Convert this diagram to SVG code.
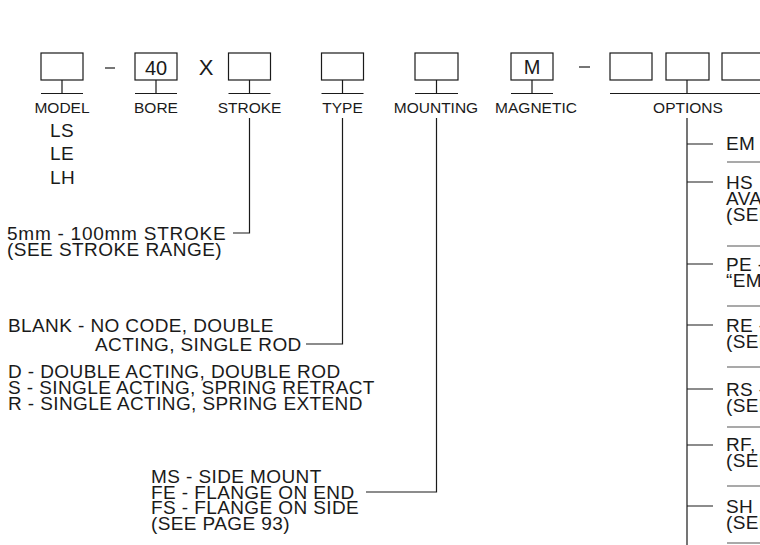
<svg xmlns="http://www.w3.org/2000/svg" width="760" height="545" viewBox="0 0 760 545">
<style>
.box{fill:none;stroke:#1a1a1a;stroke-width:1.2}
.ln{fill:none;stroke:#1a1a1a;stroke-width:1.2}
.lbl{font-family:"Liberation Sans",Arial,sans-serif;font-size:15.5px;fill:#1a1a1a;text-anchor:middle}
.big{font-family:"Liberation Sans",Arial,sans-serif;font-size:20px;fill:#1a1a1a;text-anchor:middle}
.t{font-family:"Liberation Sans",Arial,sans-serif;font-size:19px;letter-spacing:0.4px;fill:#1a1a1a}
</style>
<rect width="760" height="545" fill="#ffffff"/>

<g id="model">
<rect class="box" x="41" y="53" width="42" height="27"/>
<path class="ln" d="M62 80V93.5M41 93.5H83"/>
<text class="lbl" x="62" y="112.5">MODEL</text>
<text class="t" x="50" y="137">LS</text>
<text class="t" x="50" y="160">LE</text>
<text class="t" x="50" y="184">LH</text>
</g>

<g id="dash1"><path class="ln" d="M105 68H115"/></g>

<g id="bore">
<rect class="box" x="135" y="53" width="42" height="27"/>
<text class="big" x="156" y="75">40</text>
<path class="ln" d="M156 80V93.5M135 93.5H177"/>
<text class="lbl" x="156" y="112.5">BORE</text>
</g>

<g id="times"><text class="big" x="206" y="75" style="font-size:22px">X</text></g>

<g id="stroke">
<rect class="box" x="228.5" y="53" width="42" height="27"/>
<path class="ln" d="M249.5 80V93.5M228.5 93.5H270.5"/>
<text class="lbl" x="249.5" y="112.5">STROKE</text>
<text class="t" x="7" y="240" textLength="219" lengthAdjust="spacing">5mm - 100mm STROKE</text>
<text class="t" x="7" y="256" textLength="215" lengthAdjust="spacing">(SEE STROKE RANGE)</text>
</g>

<g id="type">
<rect class="box" x="321.5" y="53" width="42" height="27"/>
<path class="ln" d="M342.5 80V93.5M321.5 93.5H363.5"/>
<text class="lbl" x="342.5" y="112.5">TYPE</text>
<text class="t" x="8" y="332">BLANK - NO CODE, DOUBLE</text>
<text class="t" x="95" y="351">ACTING, SINGLE ROD</text>
<text class="t" x="8" y="378">D - DOUBLE ACTING, DOUBLE ROD</text>
<text class="t" x="8" y="394">S - SINGLE ACTING, SPRING RETRACT</text>
<text class="t" x="8" y="410">R - SINGLE ACTING, SPRING EXTEND</text>
</g>

<g id="mounting">
<rect class="box" x="415" y="53" width="43" height="27"/>
<path class="ln" d="M436.5 80V93.5M415 93.5H458"/>
<text class="lbl" x="436" y="112.5">MOUNTING</text>
<text class="t" x="151" y="483">MS - SIDE MOUNT</text>
<text class="t" x="151" y="499">FE - FLANGE ON END</text>
<text class="t" x="151" y="514">FS - FLANGE ON SIDE</text>
<text class="t" x="151" y="530">(SEE PAGE 93)</text>
</g>

<g id="magnetic">
<rect class="box" x="511" y="53" width="42" height="27"/>
<text class="big" x="532" y="74">M</text>
<path class="ln" d="M532 80V93.5M511 93.5H553"/>
<text class="lbl" x="536" y="112.5">MAGNETIC</text>
</g>

<g id="dash2"><path class="ln" d="M579 67H590"/></g>

<g id="options">
<rect class="box" x="610" y="53" width="42" height="27"/>
<rect class="box" x="666" y="53" width="43" height="27"/>
<rect class="box" x="722" y="53" width="42" height="27"/>
<path class="ln" d="M687 80V93.5M610 93.5H760"/>
<text class="lbl" x="688" y="112.5">OPTIONS</text>
<text class="t" x="726" y="150">EM</text>
<text class="t" x="726" y="189">HS</text>
<text class="t" x="726" y="205">AVA</text>
<text class="t" x="726" y="221">(SEE</text>
<text class="t" x="726" y="271">PE -</text>
<text class="t" x="726" y="287">“EM</text>
<text class="t" x="726" y="332">RE -</text>
<text class="t" x="726" y="348">(SEE</text>
<text class="t" x="726" y="396">RS -</text>
<text class="t" x="726" y="412">(SEE</text>
<text class="t" x="726" y="451">RF,</text>
<text class="t" x="726" y="467">(SEE</text>
<text class="t" x="726" y="513">SH</text>
<text class="t" x="726" y="529">(SEE</text>
<path class="ln" d="M727 162H760M727 246H760M727 306H760M727 367H760M727 427H760M727 486H760M727 543H760" style="stroke:#555"/>
</g>

<g id="connectors">
<path class="ln" d="M249.5 118V233H233"/>
<path class="ln" d="M342.5 118V344H306"/>
<path class="ln" d="M436.5 118V492H366"/>
<path class="ln" d="M687 118V545"/>
<path class="ln" d="M687 144H713M687 182H713M687 264H713M687 325H713M687 389H713M687 445H713M687 506H713"/>
</g>
</svg>
